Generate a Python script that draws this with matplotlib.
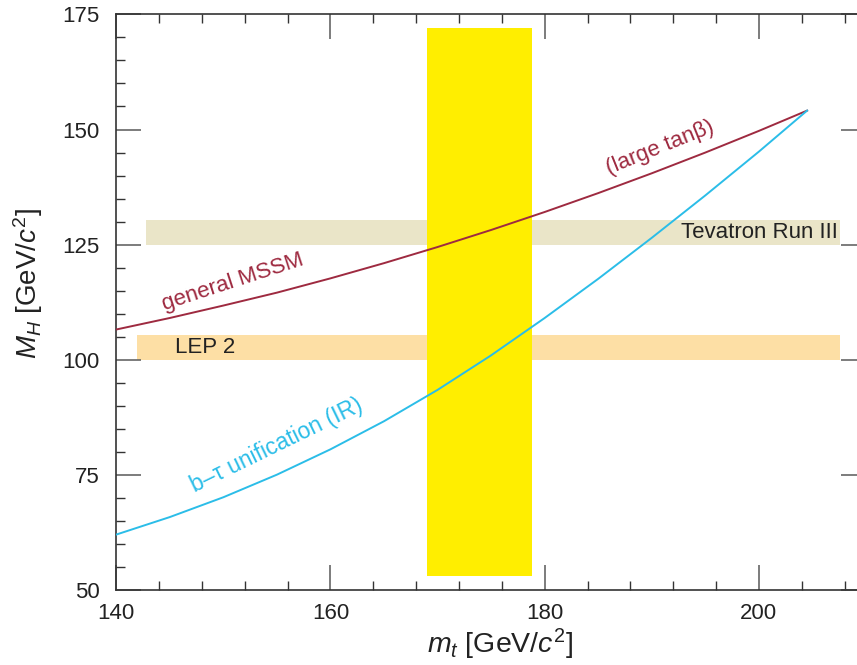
import matplotlib
matplotlib.use("Agg")
import matplotlib.pyplot as plt
from matplotlib.ticker import MultipleLocator

plt.rcParams['font.family'] = ['Liberation Sans', 'DejaVu Sans']
plt.rcParams['mathtext.fontset'] = 'custom'
plt.rcParams['mathtext.rm'] = 'Liberation Sans'
plt.rcParams['mathtext.it'] = 'Liberation Sans:italic'
plt.rcParams['mathtext.bf'] = 'Liberation Sans:bold'

# data
mssm_mt = [140, 145, 150, 155, 160, 165, 170, 175, 180, 185, 190, 195, 200, 204.5]
mssm_mh = [106.6, 109.1, 111.8, 114.6, 117.7, 121.0, 124.5, 128.2, 132.1, 136.2,
           140.5, 145.0, 149.7, 154.1]
btau_mt = [140, 145, 150, 155, 160, 165, 170, 175, 180, 185, 190, 195, 200, 204.5]
btau_mh = [62.1, 65.9, 70.2, 75.1, 80.6, 86.7, 93.5, 101.0, 109.1, 117.6, 126.5,
           135.7, 145.2, 154.1]
mt_band = (169.0, 178.8, 53.0, 172.0)          # x0, x1, y0, y1
tevatron_band = (142.8, 207.6, 125.0, 130.4)
lep_band = (141.9, 207.6, 100.0, 105.4)

RED = '#9E2A40'
BLUE = '#2BBDE8'
TXT = '#222222'

fig = plt.figure(figsize=(8.57, 6.65), dpi=100)
ax = fig.add_axes([0.1357, 0.1123, 0.8748, 0.8662])
ax.set_xlim(140, 210)
ax.set_ylim(50, 175)

def band(b, color, z):
    ax.fill_between([b[0], b[1]], b[2], b[3], color=color, lw=0, zorder=z)

band(tevatron_band, '#EAE5C8', 1)
band(lep_band, '#FDDFA5', 1)
band(mt_band, '#FFEE00', 2)

ax.plot(mssm_mt, mssm_mh, color=RED, lw=1.4, zorder=4)
ax.plot(btau_mt, btau_mh, color=BLUE, lw=1.4, zorder=4)

ax.text(207.4, 127.6, 'Tevatron Run III', ha='right', va='center', fontsize=16, color=TXT, zorder=5)
ax.text(145.5, 102.6, 'LEP 2', ha='left', va='center', fontsize=16, color=TXT, zorder=5)
ax.text(150.9, 116.9, 'general MSSM', ha='center', va='center', fontsize=16,
        color=RED, rotation=18, zorder=5)
ax.text(190.8, 146.0, '(large tan\u03b2)', ha='center', va='center', fontsize=16,
        color=RED, rotation=22, zorder=5)
ax.text(155.0, 81.5, 'b\u2013\u03c4 unification (IR)', ha='center', va='center', fontsize=16.5,
        color=BLUE, rotation=26, zorder=5)

ax.xaxis.set_major_locator(MultipleLocator(20))
ax.xaxis.set_minor_locator(MultipleLocator(4))
ax.yaxis.set_major_locator(MultipleLocator(25))
ax.yaxis.set_minor_locator(MultipleLocator(5))
ax.tick_params(which='both', direction='in', top=True, right=True, labelsize=16,
               labelcolor=TXT)
ax.tick_params(which='major', length=18, width=1.2, color='#666666')
ax.tick_params(which='minor', length=6.5, width=1.0, color='#333333')
ax.tick_params(axis='x', which='major', pad=9)
ax.tick_params(axis='y', which='major', pad=12)
for s in ax.spines.values():
    s.set_color('#333333')
    s.set_linewidth(1.2)

ax.set_xlabel(r'$m_t$ [GeV/$c^2$]', fontsize=20.5, color=TXT)
ax.xaxis.set_label_coords(0.512, -0.063, transform=ax.transAxes)
ax.xaxis.label.set_va('top')
ax.set_ylabel(r'$M_H$ [GeV/$c^2$]', fontsize=20, color=TXT)
ax.yaxis.set_label_coords(-0.095, 0.532)

fig.savefig('out.png', dpi=100)
